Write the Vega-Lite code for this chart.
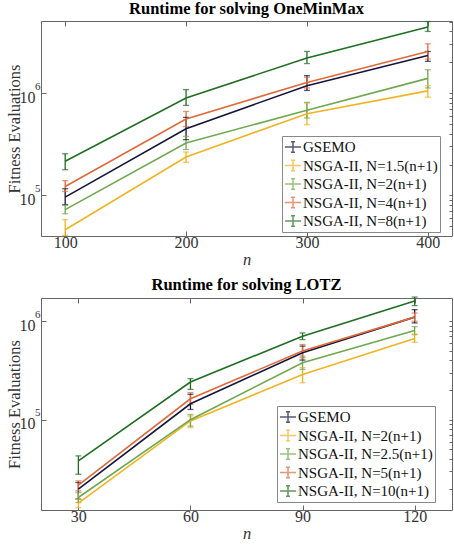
{
  "$schema": "https://vega.github.io/schema/vega-lite/v6.json",
  "background": "white",
  "padding": {"left": 5, "top": 0, "right": 1, "bottom": 0},
  "spacing": 8,
  "config": {
    "font": "Liberation Serif",
    "view": {"stroke": "#666666", "strokeWidth": 1},
    "axis": {
      "labelFont": "Liberation Serif",
      "labelFontSize": 16,
      "labelColor": "#333333",
      "titleFont": "Liberation Serif",
      "titleFontSize": 16.5,
      "titleFontWeight": "normal",
      "titleColor": "#333333",
      "domain": false,
      "grid": false,
      "tickColor": "#666666",
      "tickSize": -5,
      "labelPadding": 3
    },
    "title": {"font": "Liberation Serif", "fontSize": 16.5, "fontWeight": "bold", "color": "#000000", "offset": 3}
  },
  "resolve": {"scale": {"color": "independent"}, "legend": {"color": "independent"}},
  "datasets": {
    "omm": [
      {"alg": "GSEMO", "n": 100, "v": 96000, "lo": 81000, "hi": 116000},
      {"alg": "GSEMO", "n": 200, "v": 448000, "lo": 350000, "hi": 578000},
      {"alg": "GSEMO", "n": 300, "v": 1180000, "lo": 1060000, "hi": 1480000},
      {"alg": "GSEMO", "n": 400, "v": 2330000, "lo": 2040000, "hi": 2550000},
      {"alg": "NSGA-II, N=1.5(n+1)", "n": 100, "v": 46000, "lo": 40600, "hi": 57800},
      {"alg": "NSGA-II, N=1.5(n+1)", "n": 200, "v": 237000, "lo": 210000, "hi": 265000},
      {"alg": "NSGA-II, N=1.5(n+1)", "n": 300, "v": 628000, "lo": 490000, "hi": 798000},
      {"alg": "NSGA-II, N=1.5(n+1)", "n": 400, "v": 1050000, "lo": 910000, "hi": 1180000},
      {"alg": "NSGA-II, N=2(n+1)", "n": 100, "v": 72400, "lo": 66000, "hi": 79800},
      {"alg": "NSGA-II, N=2(n+1)", "n": 200, "v": 325000, "lo": 280000, "hi": 377000},
      {"alg": "NSGA-II, N=2(n+1)", "n": 300, "v": 678000, "lo": 570000, "hi": 810000},
      {"alg": "NSGA-II, N=2(n+1)", "n": 400, "v": 1390000, "lo": 1120000, "hi": 1690000},
      {"alg": "NSGA-II, N=4(n+1)", "n": 100, "v": 122000, "lo": 109000, "hi": 139000},
      {"alg": "NSGA-II, N=4(n+1)", "n": 200, "v": 557000, "lo": 470000, "hi": 660000},
      {"alg": "NSGA-II, N=4(n+1)", "n": 300, "v": 1270000, "lo": 1120000, "hi": 1430000},
      {"alg": "NSGA-II, N=4(n+1)", "n": 400, "v": 2550000, "lo": 2150000, "hi": 3030000},
      {"alg": "NSGA-II, N=8(n+1)", "n": 100, "v": 215000, "lo": 178000, "hi": 255000},
      {"alg": "NSGA-II, N=8(n+1)", "n": 200, "v": 894000, "lo": 757000, "hi": 1080000},
      {"alg": "NSGA-II, N=8(n+1)", "n": 300, "v": 2200000, "lo": 1940000, "hi": 2550000},
      {"alg": "NSGA-II, N=8(n+1)", "n": 400, "v": 4420000, "lo": 4000000, "hi": 5000000}
    ],
    "lotz": [
      {"alg": "GSEMO", "n": 30, "v": 19700, "lo": 15600, "hi": 23000},
      {"alg": "GSEMO", "n": 60, "v": 145000, "lo": 127000, "hi": 181000},
      {"alg": "GSEMO", "n": 90, "v": 478000, "lo": 403000, "hi": 558000},
      {"alg": "GSEMO", "n": 120, "v": 1100000, "lo": 960000, "hi": 1310000},
      {"alg": "NSGA-II, N=2(n+1)", "n": 30, "v": 14200, "lo": 12800, "hi": 15500},
      {"alg": "NSGA-II, N=2(n+1)", "n": 60, "v": 97000, "lo": 83000, "hi": 109000},
      {"alg": "NSGA-II, N=2(n+1)", "n": 90, "v": 288000, "lo": 237000, "hi": 337000},
      {"alg": "NSGA-II, N=2(n+1)", "n": 120, "v": 667000, "lo": 610000, "hi": 740000},
      {"alg": "NSGA-II, N=2.5(n+1)", "n": 30, "v": 16200, "lo": 14400, "hi": 18200},
      {"alg": "NSGA-II, N=2.5(n+1)", "n": 60, "v": 100000, "lo": 86000, "hi": 113000},
      {"alg": "NSGA-II, N=2.5(n+1)", "n": 90, "v": 378000, "lo": 324000, "hi": 442000},
      {"alg": "NSGA-II, N=2.5(n+1)", "n": 120, "v": 804000, "lo": 730000, "hi": 880000},
      {"alg": "NSGA-II, N=5(n+1)", "n": 30, "v": 21600, "lo": 18900, "hi": 23900},
      {"alg": "NSGA-II, N=5(n+1)", "n": 60, "v": 163000, "lo": 143000, "hi": 188000},
      {"alg": "NSGA-II, N=5(n+1)", "n": 90, "v": 497000, "lo": 425000, "hi": 580000},
      {"alg": "NSGA-II, N=5(n+1)", "n": 120, "v": 1100000, "lo": 1000000, "hi": 1210000},
      {"alg": "NSGA-II, N=10(n+1)", "n": 30, "v": 38100, "lo": 27900, "hi": 42900},
      {"alg": "NSGA-II, N=10(n+1)", "n": 60, "v": 241000, "lo": 203000, "hi": 261000},
      {"alg": "NSGA-II, N=10(n+1)", "n": 90, "v": 705000, "lo": 650000, "hi": 760000},
      {"alg": "NSGA-II, N=10(n+1)", "n": 120, "v": 1600000, "lo": 1440000, "hi": 1760000}
    ]
  },
  "vconcat": [
    {
      "title": "Runtime for solving OneMinMax",
      "width": 411,
      "height": 215,
      "data": {"name": "omm"},
      "encoding": {
        "color": {
          "field": "alg",
          "type": "nominal",
          "scale": {
            "domain": ["GSEMO", "NSGA-II, N=1.5(n+1)", "NSGA-II, N=2(n+1)", "NSGA-II, N=4(n+1)", "NSGA-II, N=8(n+1)"],
            "range": ["#15153a", "#f0b323", "#6fa84f", "#e0693a", "#1f6e22"]
          },
          "legend": {
            "orient": "none",
            "legendX": 241,
            "legendY": 115,
            "title": null,
            "symbolType": "M-1,0H1M0,-0.65V0.65M-0.25,-0.65H0.25M-0.25,0.65H0.25",
            "symbolSize": 260,
            "symbolStrokeWidth": 1.5,
            "symbolFillColor": "transparent",
            "labelFont": "Liberation Serif",
            "labelFontSize": 15,
            "labelColor": "#111111",
            "labelOffset": 1,
            "labelLimit": 300,
            "strokeColor": "#888888",
            "fillColor": "white",
            "padding": 2,
            "rowPadding": 0.5,
            "cornerRadius": 0
          }
        }
      },
      "layer": [
        {
          "mark": {"type": "rule", "strokeWidth": 1.3},
          "encoding": {
            "x": {"field": "n", "type": "quantitative", "scale": {"domain": [80, 420], "nice": false, "zero": false},
              "axis": {"orient": "top", "values": [100, 200, 300, 400], "labels": false, "title": null}},
            "y": {"field": "lo", "type": "quantitative", "scale": {"type": "log", "domain": [40000, 5060000], "nice": false},
              "axis": {"orient": "right", "values": [50000, 60000, 70000, 80000, 90000, 100000, 200000, 300000, 400000, 500000, 600000, 700000, 800000, 900000, 1000000, 2000000, 3000000, 4000000, 5000000], "labels": false, "title": null, "tickSize": -3}},
            "y2": {"field": "hi"}
          }
        },
        {
          "mark": {"type": "tick", "orient": "horizontal", "size": 6, "thickness": 1.3},
          "encoding": {
            "x": {"field": "n", "type": "quantitative", "scale": {"domain": [80, 420], "nice": false, "zero": false}, "axis": null},
            "y": {"field": "lo", "type": "quantitative", "scale": {"type": "log", "domain": [40000, 5060000], "nice": false},
              "axis": {"orient": "left", "values": [100000, 1000000], "labelExpr": "datum.value < 500000 ? '5' : '6'", "labelFontSize": 11, "labelPadding": 1, "labelOffset": -7, "ticks": false, "title": null}}
          }
        },
        {
          "mark": {"type": "tick", "orient": "horizontal", "size": 6, "thickness": 1.3},
          "encoding": {
            "x": {"field": "n", "type": "quantitative", "scale": {"domain": [80, 420], "nice": false, "zero": false}, "axis": null},
            "y": {"field": "hi", "type": "quantitative", "scale": {"type": "log", "domain": [40000, 5060000], "nice": false}, "axis": null}
          }
        },
        {
          "mark": {"type": "line", "strokeWidth": 1.6},
          "encoding": {
            "x": {"field": "n", "type": "quantitative", "scale": {"domain": [80, 420], "nice": false, "zero": false},
              "axis": {"orient": "bottom", "values": [100, 200, 300, 400], "title": "n", "titleFontStyle": "italic", "titlePadding": 1}},
            "y": {"field": "v", "type": "quantitative", "scale": {"type": "log", "domain": [40000, 5060000], "nice": false},
              "axis": {"orient": "left", "values": [100000, 1000000], "labelExpr": "'10'", "labelPadding": 11, "labelOffset": 4, "title": "Fitness Evaluations", "titlePadding": -3}}
          }
        }
      ],
      "resolve": {"axis": {"x": "independent", "y": "independent"}}
    },
    {
      "title": "Runtime for solving LOTZ",
      "width": 411,
      "height": 212,
      "data": {"name": "lotz"},
      "encoding": {
        "color": {
          "field": "alg",
          "type": "nominal",
          "scale": {
            "domain": ["GSEMO", "NSGA-II, N=2(n+1)", "NSGA-II, N=2.5(n+1)", "NSGA-II, N=5(n+1)", "NSGA-II, N=10(n+1)"],
            "range": ["#15153a", "#f0b323", "#6fa84f", "#e0693a", "#1f6e22"]
          },
          "legend": {
            "orient": "none",
            "legendX": 236,
            "legendY": 108,
            "title": null,
            "symbolType": "M-1,0H1M0,-0.65V0.65M-0.25,-0.65H0.25M-0.25,0.65H0.25",
            "symbolSize": 260,
            "symbolStrokeWidth": 1.5,
            "symbolFillColor": "transparent",
            "labelFont": "Liberation Serif",
            "labelFontSize": 15,
            "labelColor": "#111111",
            "labelOffset": 1,
            "labelLimit": 300,
            "strokeColor": "#888888",
            "fillColor": "white",
            "padding": 2,
            "rowPadding": 0.5,
            "cornerRadius": 0
          }
        }
      },
      "layer": [
        {
          "mark": {"type": "rule", "strokeWidth": 1.3},
          "encoding": {
            "x": {"field": "n", "type": "quantitative", "scale": {"domain": [20, 130], "nice": false, "zero": false},
              "axis": {"orient": "top", "values": [30, 60, 90, 120], "labels": false, "title": null}},
            "y": {"field": "lo", "type": "quantitative", "scale": {"type": "log", "domain": [12100, 1720000], "nice": false},
              "axis": {"orient": "right", "values": [20000, 30000, 40000, 50000, 60000, 70000, 80000, 90000, 100000, 200000, 300000, 400000, 500000, 600000, 700000, 800000, 900000, 1000000], "labels": false, "title": null, "tickSize": -3}},
            "y2": {"field": "hi"}
          }
        },
        {
          "mark": {"type": "tick", "orient": "horizontal", "size": 6, "thickness": 1.3},
          "encoding": {
            "x": {"field": "n", "type": "quantitative", "scale": {"domain": [20, 130], "nice": false, "zero": false}, "axis": null},
            "y": {"field": "lo", "type": "quantitative", "scale": {"type": "log", "domain": [12100, 1720000], "nice": false},
              "axis": {"orient": "left", "values": [100000, 1000000], "labelExpr": "datum.value < 500000 ? '5' : '6'", "labelFontSize": 11, "labelPadding": 1, "labelOffset": -7, "ticks": false, "title": null}}
          }
        },
        {
          "mark": {"type": "tick", "orient": "horizontal", "size": 6, "thickness": 1.3},
          "encoding": {
            "x": {"field": "n", "type": "quantitative", "scale": {"domain": [20, 130], "nice": false, "zero": false}, "axis": null},
            "y": {"field": "hi", "type": "quantitative", "scale": {"type": "log", "domain": [12100, 1720000], "nice": false}, "axis": null}
          }
        },
        {
          "mark": {"type": "line", "strokeWidth": 1.6},
          "encoding": {
            "x": {"field": "n", "type": "quantitative", "scale": {"domain": [20, 130], "nice": false, "zero": false},
              "axis": {"orient": "bottom", "values": [30, 60, 90, 120], "title": "n", "titleFontStyle": "italic", "titlePadding": 1}},
            "y": {"field": "v", "type": "quantitative", "scale": {"type": "log", "domain": [12100, 1720000], "nice": false},
              "axis": {"orient": "left", "values": [100000, 1000000], "labelExpr": "'10'", "labelPadding": 11, "labelOffset": 4, "title": "Fitness Evaluations", "titlePadding": -3}}
          }
        }
      ],
      "resolve": {"axis": {"x": "independent", "y": "independent"}}
    }
  ]
}
